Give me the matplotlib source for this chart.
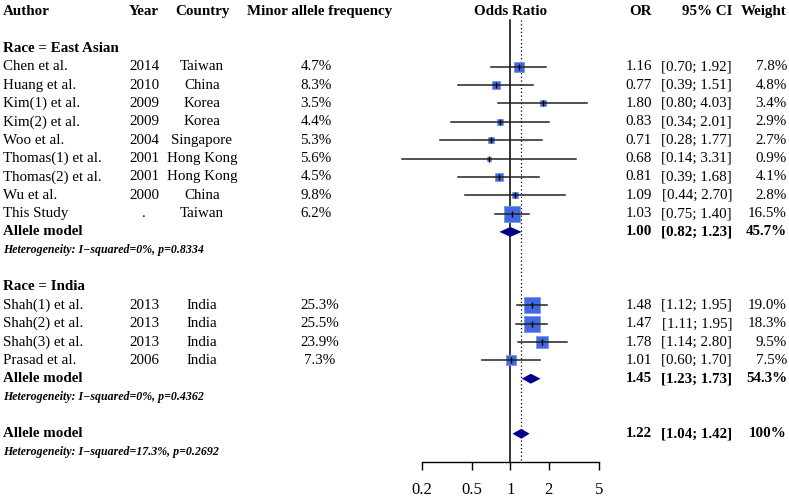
import matplotlib
matplotlib.use("Agg")
import matplotlib.pyplot as plt
from matplotlib.transforms import blended_transform_factory

plt.rcParams["font.family"] = ["Liberation Serif", "DejaVu Serif"]

# study data
ea_author = ["Chen et al.", "Huang et al.", "Kim(1) et al.", "Kim(2) et al.", "Woo et al.",
             "Thomas(1) et al.", "Thomas(2) et al.", "Wu et al.", "This Study"]
ea_year = ["2014", "2010", "2009", "2009", "2004", "2001", "2001", "2000", "."]
ea_country = ["Taiwan", "China", "Korea", "Korea", "Singapore", "Hong Kong", "Hong Kong",
              "China", "Taiwan"]
ea_maf = ["4.7%", "8.3%", "3.5%", "4.4%", "5.3%", "5.6%", "4.5%", "9.8%", "6.2%"]
ea_or = [1.16, 0.77, 1.80, 0.83, 0.71, 0.68, 0.81, 1.09, 1.03]
ea_lo = [0.70, 0.39, 0.80, 0.34, 0.28, 0.14, 0.39, 0.44, 0.75]
ea_hi = [1.92, 1.51, 4.03, 2.01, 1.77, 3.31, 1.68, 2.70, 1.40]
ea_w = [7.8, 4.8, 3.4, 2.9, 2.7, 0.9, 4.1, 2.8, 16.5]

in_author = ["Shah(1) et al.", "Shah(2) et al.", "Shah(3) et al.", "Prasad et al."]
in_year = ["2013", "2013", "2013", "2006"]
in_country = ["India", "India", "India", "India"]
in_maf = ["25.3%", "25.5%", "23.9%", "7.3%"]
in_or = [1.48, 1.47, 1.78, 1.01]
in_lo = [1.12, 1.11, 1.14, 0.60]
in_hi = [1.95, 1.95, 2.80, 1.70]
in_w = [19.0, 18.3, 9.5, 7.5]

# pooled estimates: OR, lower, upper, weight
pooled_ea = [1.00, 0.82, 1.23, "45.7%"]
pooled_in = [1.45, 1.23, 1.73, "54.3%"]
pooled_all = [1.22, 1.04, 1.42, "100%"]
het_ea = "Heterogeneity: I\u2212squared=0%, p=0.8334"
het_in = "Heterogeneity: I\u2212squared=0%, p=0.4362"
het_all = "Heterogeneity: I\u2212squared=17.3%, p=0.2692"

ticks = [0.2, 0.5, 1, 2, 5]

W, H = 789, 497
y0, step = 11.7, 18.35  # pixel y of row 0, row height
fig = plt.figure(figsize=(W / 100, H / 100), dpi=100)
ax = fig.add_axes((421.7 / W, 0, 177.3 / W, 1))
ax.set_xscale("log")
ax.set_xlim(0.2, 5)
ax.set_ylim((H - y0) / step, -y0 / step)
ax.patch.set_visible(False)
for s in ["top", "right", "left"]:
    ax.spines[s].set_visible(False)

axis_row = (462.3 - y0) / step
ax.spines["bottom"].set_position(("data", axis_row))
ax.spines["bottom"].set_bounds(0.2, 5)
ax.spines["bottom"].set_linewidth(1.0)
ax.set_xticks(ticks)
ax.set_xticklabels([str(t) for t in ticks])
ax.minorticks_off()
ax.tick_params(axis="x", direction="out", length=5.5, width=1.0, pad=9, labelsize=12)
ax.set_yticks([])

tr = blended_transform_factory(fig.transFigure, ax.transData)
FS = 10.8


def txt(px, row, s, ha="left", bold=False, **kw):
    ax.text(px / W, row, s, transform=tr, ha=ha, va="center", fontsize=FS,
            fontweight="bold" if bold else "normal", clip_on=False, **kw)


# reference lines
ax.plot([1, 1], [0.45, axis_row], color="black", lw=1.1, clip_on=False)
ax.plot([pooled_all[0]] * 2, [0.45, axis_row], color="black", lw=0.9,
        ls=(0, (1, 2)), clip_on=False)

# headers
txt(3, 0, "Author", bold=True)
txt(144, 0, "Year", ha="center", bold=True)
txt(202, 0, "Country", ha="center", bold=True)
txt(320, 0, "Minor allele frequency", ha="center", bold=True)
ax.text(1, 0, "Odds Ratio", ha="center", va="center", fontsize=FS, fontweight="bold")
txt(652, 0, "OR", ha="right", bold=True)
txt(732, 0, "95% CI", ha="right", bold=True)
txt(787, 0, "Weight", ha="right", bold=True)


def study_rows(start, authors, years, countries, mafs, ors, los, his, ws, maf_x):
    for i in range(len(authors)):
        r = start + i
        txt(3, r, authors[i])
        txt(144, r, years[i], ha="center")
        txt(202, r, countries[i], ha="center")
        txt(maf_x, r, mafs[i], ha="center")
        txt(652, r, f"{ors[i]:.2f}", ha="right")
        txt(732, r, f"[{los[i]:.2f}; {his[i]:.2f}]", ha="right")
        txt(787, r, f"{ws[i]:.1f}%", ha="right")
        side = 3.7 * (ws[i] ** 0.5) * 0.72
        ax.plot(ors[i], r, marker="s", ms=side, color="#4169E1", mec="#7b95ea",
                mew=0.6, zorder=2, clip_on=False)
        ax.plot([los[i], his[i]], [r, r], color="#222222", lw=1.1, clip_on=False, zorder=3)
        ax.plot(ors[i], r, marker="|", ms=4.5, mew=1.0, color="black", zorder=4,
                clip_on=False)


def pooled_row(r, het_r, est, het):
    o, lo, hi, w = est
    txt(3, r, "Allele model", bold=True)
    txt(652, r, f"{o:.2f}", ha="right", bold=True)
    txt(732, r, f"[{lo:.2f}; {hi:.2f}]", ha="right", bold=True)
    txt(787, r, w, ha="right", bold=True)
    h = 0.27
    ax.fill([lo, o, hi, o], [r, r - h, r, r + h], color="#00008B", lw=0,
            zorder=3, clip_on=False)
    ax.text(3 / W, het_r, het, transform=tr, ha="left", va="center", fontsize=8.6,
            fontweight="bold", fontstyle="italic")


txt(3, 2, "Race = East Asian", bold=True)
study_rows(3, ea_author, ea_year, ea_country, ea_maf, ea_or, ea_lo, ea_hi, ea_w, 316)
pooled_row(12, 13, pooled_ea, het_ea)

txt(3, 15, "Race = India", bold=True)
study_rows(16, in_author, in_year, in_country, in_maf, in_or, in_lo, in_hi, in_w, 320)
pooled_row(20, 21, pooled_in, het_in)

pooled_row(23, 24, pooled_all, het_all)

fig.savefig("out.png", dpi=100)
